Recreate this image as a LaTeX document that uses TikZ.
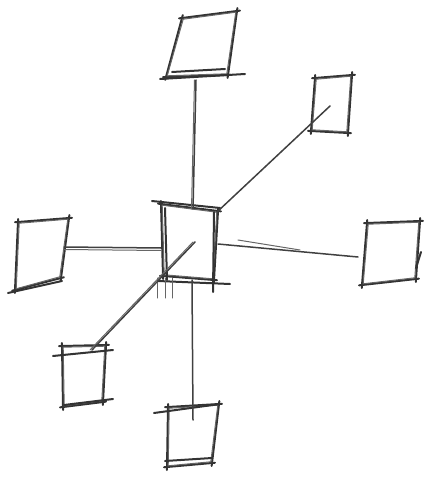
\documentclass[tikz,border=0pt]{standalone}
\tikzset{
  ink/.style={draw=black!80, line width=2pt, line cap=round},
  edgeline/.style={ink, shorten <=-3pt, shorten >=-3pt},
  faint/.style={draw=black!60, line width=1pt, line cap=round},
  linkline/.style={draw=black!75, line width=1.5pt, line cap=round},
}
\newcommand\skbox[5]{%
  \coordinate (#1-tl) at (#2);
  \coordinate (#1-tr) at (#3);
  \coordinate (#1-br) at (#4);
  \coordinate (#1-bl) at (#5);
  \draw[edgeline] (#1-tl) -- (#1-tr);
  \draw[edgeline] (#1-tr) -- (#1-br);
  \draw[edgeline] (#1-br) -- (#1-bl);
  \draw[edgeline] (#1-bl) -- (#1-tl);
  \draw[faint] ([shift={(1.2,1.2)}]#1-tl) -- ([shift={(-1.2,1.2)}]#1-tr)
               -- ([shift={(-1.2,-1.2)}]#1-br) -- ([shift={(1.2,-1.2)}]#1-bl) -- cycle;
}
\begin{document}
\begin{tikzpicture}[x=1pt,y=-1pt]
\useasboundingbox (0,0) rectangle (423,481);
% boxes
\skbox{top}{182,18}{237,11}{228,75}{166,77}
\skbox{ur}{315,78}{352,75}{348,133}{311,131}
\skbox{ctr}{161,204}{218,211}{214,280}{163,276}
\skbox{rt}{367,223}{420,221}{416,279}{362,285}
\skbox{lf}{18,222}{69,218}{61,278}{15,290}
\skbox{ll}{62,346}{106,345}{103,402}{63,407}
\skbox{bt}{168,407}{219,404}{212,463}{167,467}
% extra sketch strokes
\draw[ink] (160,79) -- (245,74);
\draw[ink] (172,72) -- (225,69);
\draw[ink] (8,293) -- (62,281);
\draw[ink] (154,413) -- (220,404);
\draw[ink] (165,461) -- (212,458);
\draw[ink] (53,356) -- (113,350);
\draw[ink] (64,405) -- (113,399);
\draw[ink] (158,281) -- (230,284);
\draw[ink] (152,201) -- (220,208);
\draw[ink] (416,268) -- (421,252);
\draw[ink] (165,208) -- (167,280);
\draw[ink] (214,212) -- (213,292);
\foreach \x in {157,165,172}{\draw[faint] (\x,278) -- (\x,298);}
% connector anchors
\coordinate (top-s) at (196,80);
\coordinate (ctr-n) at (193,209);
\coordinate (ur-s) at (330,106);
\coordinate (ctr-ne) at (217,212);
\coordinate (rt-w) at (358,257);
\coordinate (ctr-e) at (218,244);
\coordinate (lf-e) at (64,247);
\coordinate (ctr-w) at (161,248);
\coordinate (ll-n) at (92,350);
\coordinate (ctr-c) at (195,242);
\coordinate (ctr-s) at (192,280);
\coordinate (bt-n) at (193,420);
% connectors
\draw[linkline] (top-s) -- (ctr-n);
\draw[faint] ([xshift=-1.5]top-s) -- ([xshift=-1.5]ctr-n);
\draw[linkline] (ctr-ne) -- (ur-s);
\draw[linkline] (ctr-e) -- (rt-w);
\draw[faint] (238,240) -- (300,250);
\draw[linkline] (lf-e) -- (ctr-w);
\draw[faint] ([yshift=-2.5]lf-e) -- ([yshift=-2.5]ctr-w);
\draw[linkline] (ll-n) -- (ctr-c);
\draw[faint] ([xshift=-2]ll-n) -- ([xshift=-2]ctr-c);
\draw[linkline] (ctr-s) -- (bt-n);
\end{tikzpicture}
\end{document}
